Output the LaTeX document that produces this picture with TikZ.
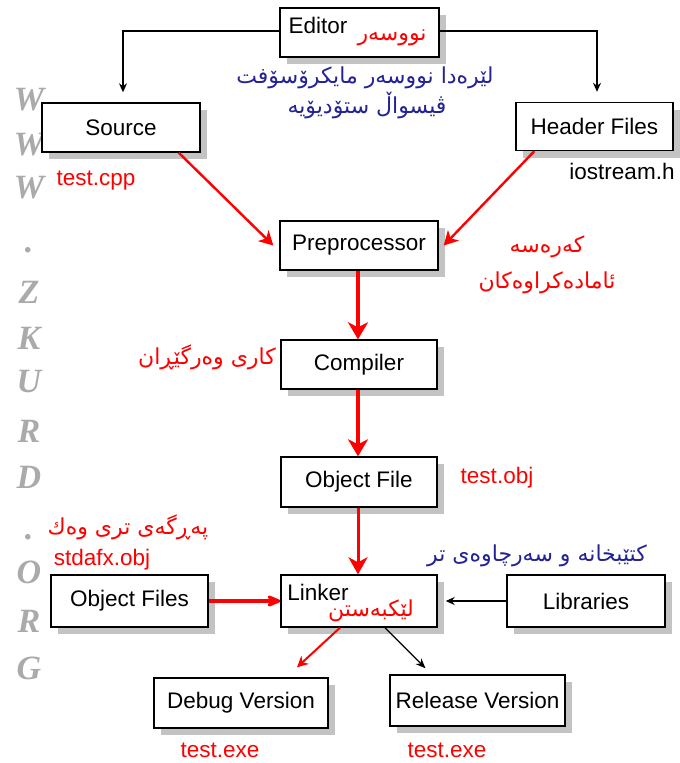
\documentclass[tikz,border=0pt]{standalone}
\usepackage{fontspec}
\setmainfont{Liberation Sans}
\newfontfamily\ku[Script=Arabic]{DejaVu Sans}
\newfontfamily\wmfont{Liberation Serif}
\TeXXeTstate=1
\usetikzlibrary{arrows.meta,shadows}
\definecolor{kblue}{RGB}{35,35,150}
\definecolor{kred}{RGB}{255,0,0}
\definecolor{wmgray}{RGB}{170,170,170}
\definecolor{shadowgray}{RGB}{195,195,195}
\begin{document}
\begin{tikzpicture}[x=1pt,y=-1pt,
  box/.style={draw=black,line width=1.4pt,fill=white,minimum height=49pt,inner sep=0pt,
    font=\fontsize{22.5}{25}\selectfont,
    drop shadow={shadow xshift=7pt,shadow yshift=-7pt,fill=shadowgray,opacity=1}},
  lat/.style={inner sep=0pt,font=\fontsize{22.5}{25}\selectfont},
  kur/.style={inner sep=0pt,font=\ku\fontsize{22}{25}\selectfont},
  wm/.style={inner sep=0pt,text=wmgray,font=\wmfont\bfseries\itshape\fontsize{34}{36}\selectfont},
  blk/.style={draw=black,line width=1.3pt,-{Stealth[length=9pt,width=8pt]}},
  redthin/.style={draw=kred,line width=2.4pt,-{Stealth[length=14pt,width=15pt,inset=4pt]}},
  redthick/.style={draw=kred,line width=3.2pt,-{Stealth[length=17pt,width=20pt,inset=5pt]}}
]
\useasboundingbox (0,0) rectangle (680,763);
\fill[white] (0,0) rectangle (680,763);

% watermark
\foreach \ch/\yy [count=\i] in {W/100,W/145,W/188,./250,Z/292,K/338,U/382,R/431,D/477,./537,O/572,R/621,G/668}
  \node[wm] (wm\i) at (29,\yy) {\ch};

% boxes
\node[box,minimum width=159pt] (Editor) at (359.5,32.5) {};
\node[box,minimum width=158pt] (Source) at (121,127.5) {Source};
\node[box,minimum width=157pt,minimum height=48pt] (Header) at (594.5,126.5) {Header Files};
\node[box,minimum width=158pt] (Pre) at (359,245.5) {Preprocessor};
\node[box,minimum width=156pt] (Comp) at (359,364.5) {Compiler};
\node[box,minimum width=156pt,minimum height=50pt] (Obj) at (359,482) {Object File};
\node[box,minimum width=157pt,minimum height=52pt] (ObjFs) at (129.5,601) {Object Files};
\node[box,minimum width=156pt,minimum height=52pt] (Linker) at (359,601) {};
\node[box,minimum width=158pt,minimum height=52pt] (Lib) at (586,601) {Libraries};
\node[box,minimum width=174pt,minimum height=50pt] (Debug) at (241,703) {Debug Version};
\node[box,minimum width=175pt,minimum height=51pt] (Release) at (477.5,700.5) {Release Version};

% texts inside boxes
\node[lat] (edtxt) at (318,25) {Editor};
\node[kur,text=kred] (edku) at (392,38) {\beginR نووسەر\endR};
\node[lat] (lktxt) at (318,592) {Linker};
\node[kur,text=kred] (lkku) at (371,611) {\beginR لێکبەستن\endR};

% labels
\node[kur,text=kblue] (bl1) at (365,78) {\beginR لێرەدا نووسەر مایکرۆسۆفت\endR};
\node[kur,text=kblue] (bl2) at (367,106) {\beginR ڤیسواڵ ستۆدیۆیە\endR};
\node[lat,text=kred] (tcpp) at (96,181) {test.cpp};
\node[lat] (ios) at (622,171) {iostream.h};
\node[kur,text=kred] (pr1) at (547,247) {\beginR کەرەسە\endR};
\node[kur,text=kred] (pr2) at (547,283) {\beginR ئامادەکراوەکان\endR};
\node[kur,text=kred] (cmp) at (207,357) {\beginR کاری وەرگێڕان\endR};
\node[lat,text=kred] (tobj) at (497,478) {test.obj};
\node[kur,text=kred] (of1) at (128,527) {\beginR پەڕگەی تری وەك\endR};
\node[lat,text=kred] (stdafx) at (102,560) {stdafx.obj};
\node[kur,text=kblue] (libku) at (537,556) {\beginR کتێبخانە و سەرچاوەی تر\endR};
\node[lat,text=kred] (tex1) at (220,750) {test.exe};
\node[lat,text=kred] (tex2) at (447,750) {test.exe};

% connectors
\draw[blk,shorten >=10pt] ([yshift=1.5pt]Editor.west) -| ([xshift=2pt]Source.north);
\draw[blk,shorten >=10pt] ([yshift=1.5pt]Editor.east) -| ([xshift=2.5pt]Header.north);
\draw[redthin] ([xshift=-22pt]Source.south east) -- ([xshift=-6pt]Pre.west);
\draw[redthin] ([xshift=19pt]Header.south west) -- ([xshift=5pt]Pre.east);
\draw[redthick] ([xshift=-1pt]Pre.south) -- ([xshift=-1pt]Comp.north);
\draw[redthick] ([xshift=-1pt]Comp.south) -- ([xshift=-1pt]Obj.north);
\draw[draw=kred,line width=3pt,-{Stealth[length=17pt,width=19pt,inset=5pt]}] ([xshift=-1pt]Obj.south) -- ([xshift=-1pt]Linker.north);
\draw[draw=kred,line width=3.4pt,-{Stealth[length=18pt,width=15pt,round]}] (ObjFs.east) -- (Linker.west);
\draw[blk] (Lib.west) -- ([xshift=8pt]Linker.east);
\draw[draw=kred,line width=2pt,-{Stealth[length=11pt,width=11pt]}] ([xshift=-19pt]Linker.south) -- ([xshift=56pt,yshift=10pt]Debug.north);
\draw[draw=black,line width=1.2pt,-{Stealth[length=10pt,width=8pt]}] ([xshift=26pt]Linker.south) -- ([xshift=-52pt,yshift=6pt]Release.north);
\end{tikzpicture}
\end{document}
